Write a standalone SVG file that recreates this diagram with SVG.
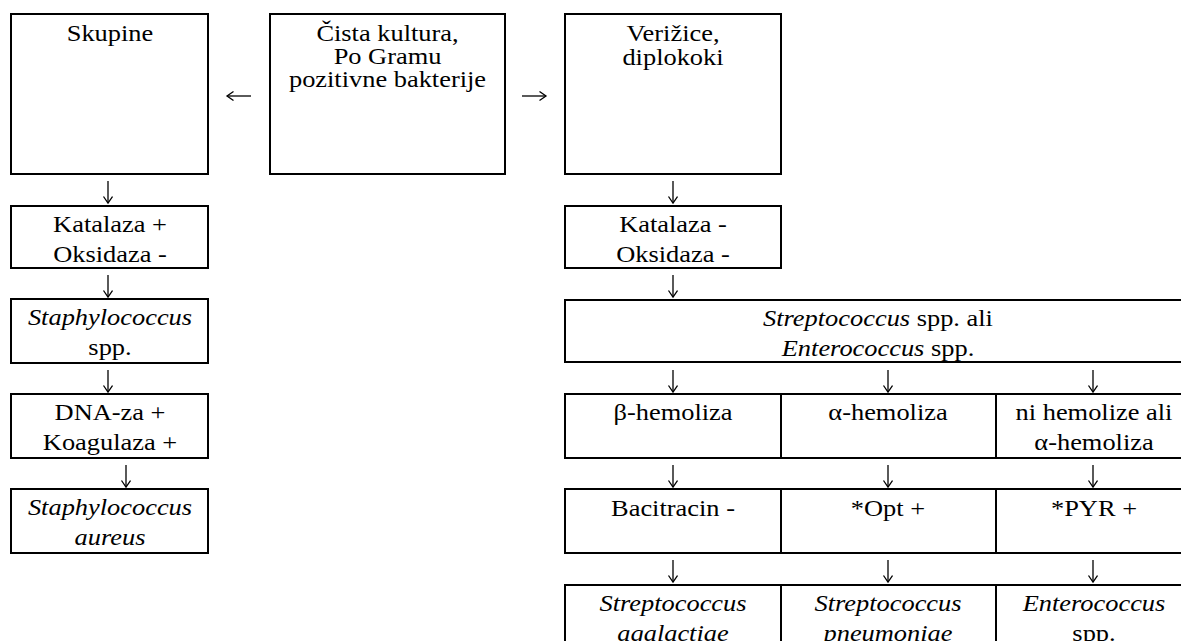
<svg xmlns="http://www.w3.org/2000/svg" width="1181" height="641" viewBox="0 0 1181 641">
<style>
.box{fill:#fff;stroke:#000;stroke-width:2}
.t{font-family:"Liberation Serif","Times New Roman",serif;font-size:24px;text-anchor:middle;fill:#000}
.i{font-style:italic}
.arr{fill:none;stroke:#000;stroke-width:1.3;marker-end:url(#ah)}
</style>
<defs>
<marker id="ah" markerUnits="userSpaceOnUse" markerWidth="12" markerHeight="12" refX="7" refY="5" orient="auto">
<path d="M0.5,0.5 L7,5 L0.5,9.5" fill="none" stroke="#000" stroke-width="1.3"/>
</marker>
</defs>
<rect width="1181" height="641" fill="#fff"/>

<g id="connectors">
<path class="arr" d="M251,96 H227"/>
<path class="arr" d="M522,96 H546"/>
<path class="arr" d="M108,181 V203"/>
<path class="arr" d="M108,275 V297"/>
<path class="arr" d="M108,370 V392"/>
<path class="arr" d="M126,465 V487"/>
<path class="arr" d="M673,181 V203"/>
<path class="arr" d="M673,275 V297"/>
<path class="arr" d="M673,370 V392"/>
<path class="arr" d="M888,370 V392"/>
<path class="arr" d="M1093,370 V392"/>
<path class="arr" d="M673,465 V487"/>
<path class="arr" d="M888,465 V487"/>
<path class="arr" d="M1093,465 V487"/>
<path class="arr" d="M673,560 V582"/>
<path class="arr" d="M888,560 V582"/>
<path class="arr" d="M1093,560 V582"/>
</g>

<g id="skupine">
<rect class="box" x="11" y="14" width="197" height="160"/>
<text class="t" transform="matrix(1.1 0 0 1 110 41)">Skupine</text>
</g>
<g id="cista-kultura">
<rect class="box" x="270" y="14" width="235" height="160"/>
<text class="t" transform="matrix(1.1 0 0 1 387.5 41)">Čista kultura,</text>
<text class="t" transform="matrix(1.1 0 0 1 387.5 64)">Po Gramu</text>
<text class="t" transform="matrix(1.1 0 0 1 387.5 87)">pozitivne bakterije</text>
</g>
<g id="verizice">
<rect class="box" x="565" y="14" width="216" height="160"/>
<text class="t" transform="matrix(1.1 0 0 1 673 41)">Verižice,</text>
<text class="t" transform="matrix(1.1 0 0 1 673 65)">diplokoki</text>
</g>

<g id="katalaza-plus">
<rect class="box" x="11" y="206" width="197" height="62"/>
<text class="t" transform="matrix(1.1 0 0 1 110 232)">Katalaza +</text>
<text class="t" transform="matrix(1.1 0 0 1 110 262)">Oksidaza -</text>
</g>
<g id="staph-spp">
<rect class="box" x="11" y="299" width="197" height="64"/>
<text class="t i" transform="matrix(1.1 0 0 1 110 325)">Staphylococcus</text>
<text class="t" transform="matrix(1.1 0 0 1 110 355)">spp.</text>
</g>
<g id="dnaza">
<rect class="box" x="11" y="394" width="197" height="64"/>
<text class="t" transform="matrix(1.1 0 0 1 110 420)">DNA-za +</text>
<text class="t" transform="matrix(1.1 0 0 1 110 450)">Koagulaza +</text>
</g>
<g id="staph-aureus">
<rect class="box" x="11" y="489" width="197" height="64"/>
<text class="t i" transform="matrix(1.1 0 0 1 110 515)">Staphylococcus</text>
<text class="t i" transform="matrix(1.1 0 0 1 110 545)">aureus</text>
</g>

<g id="katalaza-minus">
<rect class="box" x="565" y="206" width="216" height="62"/>
<text class="t" transform="matrix(1.1 0 0 1 673 232)">Katalaza -</text>
<text class="t" transform="matrix(1.1 0 0 1 673 262)">Oksidaza -</text>
</g>
<g id="strepto-entero">
<rect class="box" x="565" y="300" width="627" height="62"/>
<text class="t" transform="matrix(1.1 0 0 1 878 326)"><tspan class="i">Streptococcus</tspan> spp. ali</text>
<text class="t" transform="matrix(1.1 0 0 1 878 356)"><tspan class="i">Enterococcus</tspan> spp.</text>
</g>

<g id="beta-hemoliza">
<rect class="box" x="565" y="394" width="216" height="64"/>
<text class="t" transform="matrix(1.1 0 0 1 673 420)">β-hemoliza</text>
</g>
<g id="alfa-hemoliza">
<rect class="box" x="781" y="394" width="215" height="64"/>
<text class="t" transform="matrix(1.1 0 0 1 888 420)">α-hemoliza</text>
</g>
<g id="ni-hemolize">
<rect class="box" x="996" y="394" width="196" height="64"/>
<text class="t" transform="matrix(1.1 0 0 1 1094 420)">ni hemolize ali</text>
<text class="t" transform="matrix(1.1 0 0 1 1094 450)">α-hemoliza</text>
</g>

<g id="bacitracin">
<rect class="box" x="565" y="489" width="216" height="64"/>
<text class="t" transform="matrix(1.1 0 0 1 673 516)">Bacitracin -</text>
</g>
<g id="opt">
<rect class="box" x="781" y="489" width="215" height="64"/>
<text class="t" transform="matrix(1.1 0 0 1 888 516)">*Opt +</text>
</g>
<g id="pyr">
<rect class="box" x="996" y="489" width="196" height="64"/>
<text class="t" transform="matrix(1.1 0 0 1 1094 516)">*PYR +</text>
</g>

<g id="strep-agalactiae">
<rect class="box" x="565" y="585" width="216" height="64"/>
<text class="t i" transform="matrix(1.1 0 0 1 673 611)">Streptococcus</text>
<text class="t i" transform="matrix(1.1 0 0 1 673 641)">agalactiae</text>
</g>
<g id="strep-pneumoniae">
<rect class="box" x="781" y="585" width="215" height="64"/>
<text class="t i" transform="matrix(1.1 0 0 1 888 611)">Streptococcus</text>
<text class="t i" transform="matrix(1.1 0 0 1 888 641)">pneumoniae</text>
</g>
<g id="enterococcus-spp">
<rect class="box" x="996" y="585" width="196" height="64"/>
<text class="t i" transform="matrix(1.1 0 0 1 1094 611)">Enterococcus</text>
<text class="t" transform="matrix(1.1 0 0 1 1094 641)">spp.</text>
</g>
</svg>
